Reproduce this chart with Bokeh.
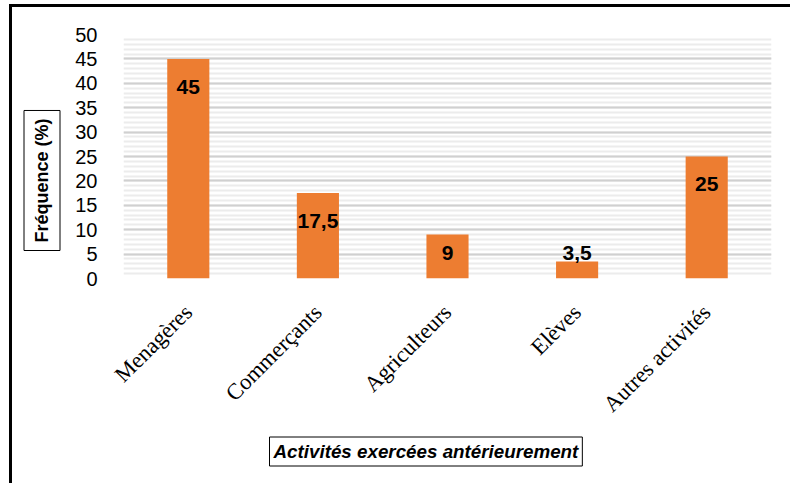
import math
from bokeh.plotting import figure
from bokeh.models import Range1d, FactorRange, Title, SingleIntervalTicker, ColumnDataSource
from bokeh.core.properties import value
from bokeh.embed import file_html
from bokeh.resources import INLINE

categories = ["Menagères", "Commerçants", "Agriculteurs", "Elèves", "Autres activités"]
frequences = [45, 17.5, 9, 3.5, 25]
value_labels = ["45", "17,5", "9", "3,5", "25"]
y_title = "Fréquence (%)"
x_title = "Activités exercées antérieurement"

label_y = [max(v - 5.7, 5.3) for v in frequences]
src = ColumnDataSource(dict(cat=categories, freq=frequences, lab=value_labels, ly=label_y))

p = figure(x_range=FactorRange(*categories), y_range=Range1d(0, 50),
           width=790, height=483, output_backend="svg", toolbar_location=None,
           min_border_left=123, min_border_right=19, min_border_top=34, min_border_bottom=205)
p.outline_line_color = None
p.background_fill_color = "white"
p.border_fill_color = None
p.styles = {"background-color": "white",
            "box-shadow": "inset 9px 4px 0 0 white, inset 12px 7px 0 0 black"}

ticker = SingleIntervalTicker(interval=5, num_minor_ticks=5)
p.yaxis.ticker = ticker
p.ygrid.ticker = ticker
p.ygrid.grid_line_color = "#d0d0d0"
p.ygrid.grid_line_width = 2
p.ygrid.minor_grid_line_color = "#ececec"
p.ygrid.minor_grid_line_width = 2
p.xgrid.grid_line_color = None

p.vbar(x="cat", top="freq", width=0.325, source=src, fill_color="#ED7D31", line_color=None)
p.text(x="cat", y="ly", text="lab", source=src, text_align="center", text_baseline="middle",
       text_font=value("Liberation Sans"), text_font_style="bold", text_font_size="21px", text_color="black")

for ax in (p.xaxis, p.yaxis):
    ax.axis_line_color = None
    ax.major_tick_line_color = None
    ax.minor_tick_line_color = None
p.yaxis.major_label_text_font = "Liberation Sans"
p.yaxis.major_label_text_font_size = "20px"
p.yaxis.major_label_text_color = "black"
p.yaxis.major_label_standoff = 20
p.xaxis.major_label_orientation = math.pi / 4
p.xaxis.major_label_text_font = "Liberation Serif"
p.xaxis.major_label_text_font_size = "22.5px"
p.xaxis.major_label_text_color = "black"
p.xaxis.major_label_standoff = 24

p.add_layout(Title(text=y_title, align="left", offset=28, standoff=25,
                   text_font="Liberation Sans", text_font_style="bold", text_font_size="18px", text_color="black",
                   border_line_color="black", border_line_width=1, background_fill_color="white", padding=8), "left")
p.add_layout(Title(text=x_title, align="left", offset=146, standoff=13,
                   text_font="Liberation Sans", text_font_style="bold italic", text_font_size="18.8px", text_color="black",
                   border_line_color="black", border_line_width=1, background_fill_color="white", padding=4), "below")

open("out.html", "w").write(file_html(p, INLINE))
